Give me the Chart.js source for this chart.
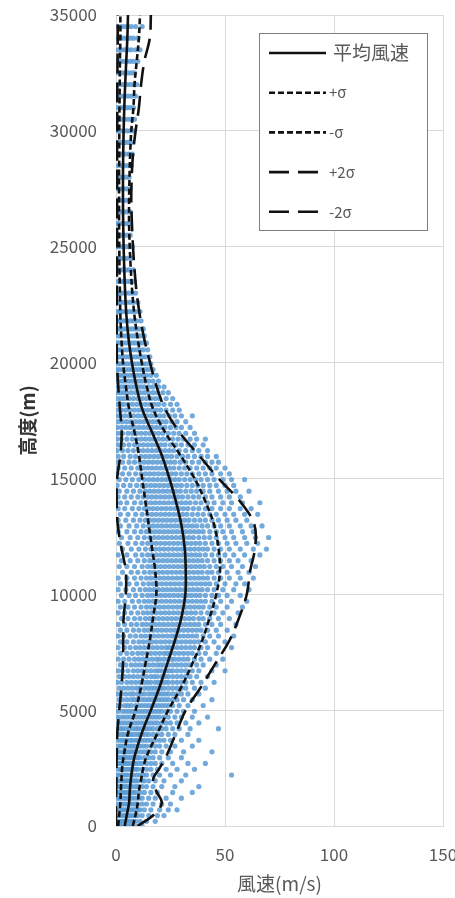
<!DOCTYPE html>
<html>
<head>
<meta charset="utf-8">
<script src="https://cdn.jsdelivr.net/npm/chart.js@4/dist/chart.umd.min.js"></script>
<style>
  html, body { margin: 0; padding: 0; background: #fff; }
  canvas { display: block; }
</style>
</head>
<body>
<canvas id="windChart" width="455" height="898"></canvas>
<script>
// heights (m) for the mean / sigma profiles
const curveHeights = [0, 500, 1000, 1500, 2000, 2500, 3000, 4000, 5000, 6000, 7000, 8000, 9000, 10000,
  11000, 12000, 13000, 14000, 15000, 16000, 17000, 18000, 19000, 20000, 21000, 22000, 23000, 24000,
  25000, 26000, 27000, 28000, 29000, 30000, 31000, 32000, 33000, 34000, 35000]

// wind speed (m/s) profiles
const meanSpeed = [4, 5, 6, 6.3, 6.8, 7.5, 8.5, 11.8, 16, 20, 23.5, 27, 30, 31.8, 32, 31.5, 30, 27.5, 24.5,
  21, 16.5, 12, 9.3, 7.3, 5.8, 4.8, 4.2, 3.8, 3.5, 3.3, 3.2, 3.2, 3.3, 3.5, 3.8, 4.2, 4.7, 5.2, 5.5]
const plusSigma = [7.7, 9, 10, 10.5, 11.5, 12.5, 14, 19, 24, 30, 35, 39.5, 43, 46, 47.7, 47, 45, 41, 36,
  29.5, 22.5, 17, 14, 11.8, 10, 8.5, 7.5, 6.8, 6.3, 6, 6, 6.2, 6.5, 7, 8, 8.5, 9.5, 10.5, 11]
const minusSigma = [1, 1.5, 2, 2.2, 2.5, 2.8, 3.5, 5.5, 9, 11.5, 13.5, 15.5, 17, 18.5, 18, 16.5, 15, 13.5, 12,
  10.5, 8.5, 6, 4.5, 3.2, 2.5, 2, 1.8, 1.6, 1.5, 1.4, 1.4, 1.4, 1.5, 1.5, 1.6, 1.7, 1.8, 2, 2]
const plus2Sigma = [10, 17.5, 21, 18.5, 17, 20, 23, 27.5, 32, 39, 45.5, 52, 56.5, 60, 61.5, 63.8, 63.5, 57, 47,
  38, 29, 22.5, 18.5, 15.6, 13, 11, 9.5, 8.5, 7.8, 7.3, 7, 7.2, 7.8, 9, 10.5, 11.5, 13, 15.5, 16]
const minus2Sigma = [0, 0, 0, 0.1, 0.2, 0.2, 0.3, 0.6, 1.5, 2.5, 3.2, 3.3, 3.5, 4.5, 4.5, 2.5, 0.8, 0.3, 0.5,
  2, 2.6, 1.8, 1, 0.4, 0.3, 0.3, 0.4, 0.4, 0.5, 0.5, 0.5, 0.5, 0.5, 0.5, 0.6, 0.6, 0.7, 0.8, 0.8]

const lineLabels = ['平均風速', '+σ', '-σ', '+2σ', '-2σ']

// observed points: one row of speeds per height
const obsHeights = [0, 200, 450, 700, 950, 1200, 1450, 1700, 1950, 2200, 2450, 2700, 2950, 3200, 3450, 3700,
  3950, 4200, 4450, 4700, 4950, 5200, 5450, 5700, 5950, 6200, 6450, 6700, 6950, 7200, 7450, 7700, 7950,
  8200, 8450, 8700, 8950, 9200, 9450, 9700, 9950, 10200, 10450, 10700, 10950, 11200, 11450, 11700, 11950,
  12200, 12450, 12700, 12950, 13200, 13450, 13700, 13950, 14200, 14450, 14700, 14950, 15200, 15450, 15700,
  15950, 16200, 16450, 16700, 16950, 17200, 17450, 17700, 17950, 18200, 18450, 18700, 18950, 19200, 19450,
  19700, 19950, 20250, 20550, 20850, 21150, 21450, 21800, 22200, 22600, 23000, 23500, 24000, 24500, 25000,
  25500, 26000, 26500, 27000, 27500, 28000, 28500, 29000, 29500, 30000, 30500, 31000, 31500, 32000, 32500,
  33000, 33500, 34000, 34500]

const obsSpeeds = [
  [0.5, 1, 2, 3, 4, 5, 6, 7, 8, 10, 12],
  [0.5, 1.5, 2.5, 3, 4, 5, 6, 7, 8, 9, 11, 14, 18],
  [1, 2, 3, 4, 5, 5.5, 6, 7, 8, 9, 10, 12, 15, 19, 22],
  [0.5, 1.5, 2.5, 3.5, 4.5, 5.5, 6.5, 7.5, 8.5, 10, 11, 13, 16, 20, 24, 28],
  [1, 2, 3, 4, 5, 6, 7, 8, 9, 10, 12, 14, 17, 21, 25],
  [0.5, 1.5, 2.5, 3.5, 4.5, 5.5, 6.5, 7.5, 9, 10.5, 12, 15, 18, 23, 30],
  [1, 2, 3, 4, 5, 6, 7, 8, 9, 11, 13, 16, 19, 26, 35],
  [0.5, 1.5, 2.5, 3.5, 4.5, 5.5, 6.5, 7.5, 9, 10, 12, 14, 17, 21, 27, 38],
  [1, 2, 3, 4, 5, 6, 7, 8, 9, 10, 12, 13, 15, 18, 22, 30],
  [0.5, 1.5, 2.5, 3.5, 4.5, 5.5, 7, 8, 9.5, 11, 12.5, 14, 17, 20, 25, 32, 53],
  [1, 2, 3, 4, 5, 6, 7, 8, 9, 10, 12, 14, 16, 19, 23, 28, 36],
  [0.5, 1.5, 2.5, 3.5, 4.5, 5.5, 6.5, 8, 9, 10.5, 12, 14, 16, 18, 21, 26, 33, 41],
  [1, 2, 3, 4, 5, 6, 7, 8, 9, 10, 11, 13, 15, 17, 20, 24, 30],
  [0.5, 1.5, 3, 4, 5, 6, 7, 8, 9, 10, 11.5, 13, 14.5, 16, 18, 21, 25, 31, 44],
  [1, 2, 3, 4.5, 5.5, 6.5, 7.5, 8.5, 10, 11, 12.5, 14, 16, 18, 20, 23, 27, 35],
  [0.5, 2, 3, 4, 5, 6.5, 7.5, 9, 10, 11.5, 13, 14.5, 16, 18, 20, 22, 25, 30, 38],
  [1, 2.5, 3.5, 5, 6, 7, 8.5, 10, 11, 12, 13.5, 15, 17, 19, 21, 24, 27, 33],
  [0.5, 2, 3, 4.5, 6, 7.5, 9, 10, 11.5, 13, 14, 15.5, 17, 19, 21, 23, 26, 29, 34, 47],
  [1, 2.5, 4, 5.5, 7, 8.5, 10, 11.5, 13, 14.5, 16, 17.5, 19, 21, 23, 25, 28, 32, 38],
  [0.5, 2, 3.5, 5, 6.5, 8, 9.5, 11, 12.5, 14, 15.5, 17, 18.5, 20, 22, 24, 27, 30, 35, 42],
  [1, 3, 4.5, 6, 7.5, 9, 10.5, 12, 13.5, 15, 16.5, 18, 19.5, 21, 23, 25, 28, 31, 36],
  [0.5, 2, 4, 5.5, 7, 9, 10.5, 12, 13.5, 15, 16.5, 18, 19.5, 21, 22.5, 24, 26, 29, 33, 40],
  [1.5, 3, 5, 7, 8.5, 10, 12, 13.5, 15, 16.5, 18, 19.5, 21, 22.5, 24, 26, 28, 31, 35, 44],
  [0.5, 2.5, 4.5, 6.5, 8, 10, 11.5, 13, 15, 16.5, 18, 19.5, 21, 22.5, 24, 26, 28, 30, 33, 38],
  [1.5, 3.5, 5.5, 7.5, 9.5, 11, 13, 14.5, 16, 17.5, 19, 20.5, 22, 24, 26, 28, 30, 32, 36, 41],
  [0.5, 2.5, 5, 7, 9, 11, 13, 14.5, 16, 18, 19.5, 21, 22.5, 24, 26, 28, 30, 32, 35, 39, 45],
  [1.5, 4, 6, 8, 10, 12, 14, 16, 17.5, 19, 21, 22.5, 24, 26, 28, 30, 32, 34, 37, 42],
  [1, 3, 5.5, 8, 10, 12, 14, 16, 18, 19.5, 21, 23, 24.5, 26, 28, 30, 32, 35, 38, 44, 50],
  [2, 4.5, 7, 9, 11, 13, 15, 17, 19, 20.5, 22, 24, 26, 28, 30, 32, 34, 37, 40, 46],
  [1, 3.5, 6, 8.5, 10.5, 12.5, 14.5, 16.5, 18.5, 20, 22, 24, 25.5, 27, 29, 31, 33, 36, 39, 43, 49],
  [2, 5, 7.5, 10, 12, 14, 16, 18, 20, 22, 23.5, 25, 27, 29, 31, 33, 35, 38, 41, 46],
  [1, 4, 6.5, 9, 11, 13, 15, 17, 19, 21, 23, 24.5, 26, 28, 30, 32, 34, 36, 39, 42, 47, 53],
  [2, 5, 8, 10.5, 12.5, 14.5, 16.5, 18.5, 20.5, 22.5, 24.5, 26.5, 28, 30, 32, 34, 36, 38, 41, 45, 50],
  [1, 3.5, 6.5, 9, 11.5, 13.5, 15.5, 17.5, 19.5, 21.5, 23.5, 25.5, 27, 29, 31, 33, 35, 37, 40, 43, 47, 54],
  [2, 5, 8, 10.5, 13, 15, 17, 19, 21, 23, 25, 27, 29, 31, 33, 35, 37, 39, 42, 46, 51],
  [1, 4, 7, 9.5, 12, 14, 16, 18, 20, 22, 24, 26, 28, 30, 32, 34, 36, 38, 41, 44, 48, 55],
  [2.5, 5.5, 8.5, 11, 13.5, 15.5, 17.5, 19.5, 21.5, 23.5, 25.5, 27.5, 29.5, 31.5, 33.5, 35.5, 38, 40, 43, 47, 52],
  [1, 4, 7, 10, 12.5, 14.5, 16.5, 18.5, 20.5, 22.5, 24.5, 26.5, 28.5, 30.5, 32.5, 34.5, 36.5, 39, 42, 45, 49, 56],
  [2, 5.5, 8.5, 11.5, 14, 16, 18, 20, 22, 24, 26, 28, 30, 32, 34, 36, 38, 40, 43, 46, 51, 58],
  [1, 4, 7.5, 10.5, 13, 15, 17, 19, 21, 23, 25, 27, 29, 31, 33, 35, 37, 39, 41, 44, 48, 53, 60],
  [2.5, 6, 9, 12, 14.5, 16.5, 18.5, 20.5, 22.5, 24.5, 26.5, 28.5, 30.5, 32.5, 34.5, 36.5, 38.5, 41, 44, 47, 51, 57],
  [1, 4.5, 8, 11, 13.5, 15.5, 17.5, 19.5, 21.5, 23.5, 25.5, 27.5, 29.5, 31.5, 33.5, 35.5, 37.5, 39.5, 42, 45, 49, 54, 61],
  [2, 6, 9.5, 12.5, 15, 17, 19, 21, 23, 25, 27, 29, 31, 33, 35, 37, 39, 41, 43, 46, 50, 55, 59],
  [1, 5, 8.5, 11.5, 14, 16, 18, 20, 22, 24, 26, 28, 30, 32, 34, 36, 38, 40, 42, 45, 48, 52, 57, 63],
  [3, 7, 10, 13, 15.5, 17.5, 19.5, 21.5, 23.5, 25.5, 27.5, 29.5, 31.5, 33.5, 35.5, 37.5, 39.5, 42, 44, 47, 51, 56, 61],
  [1.5, 5, 8.5, 12, 14.5, 16.5, 18.5, 20.5, 22.5, 24.5, 26.5, 28.5, 30.5, 32.5, 34.5, 36.5, 38.5, 40.5, 43, 46, 49, 53, 58, 64],
  [2.5, 6.5, 10, 13, 15.5, 17.5, 19.5, 21.5, 23.5, 25.5, 27.5, 29.5, 31.5, 33.5, 35.5, 37.5, 39.5, 42, 45, 48, 52, 56, 62],
  [1, 5, 9, 12, 14.5, 16.5, 18.5, 20.5, 22.5, 24.5, 26.5, 28.5, 30.5, 32.5, 34.5, 36.5, 38.5, 41, 44, 47, 50, 54, 59, 66],
  [3, 7, 10.5, 13.5, 16, 18, 20, 22, 24, 26, 28, 30, 32, 34, 36, 38, 40, 42, 45, 48, 52, 57, 63, 69],
  [1.5, 5.5, 9, 12, 14.5, 16.5, 18.5, 20.5, 22.5, 24.5, 26.5, 28.5, 30.5, 32.5, 34.5, 36.5, 38.5, 41, 44, 47, 51, 55, 60, 65],
  [2.5, 6.5, 10, 13, 15.5, 17.5, 19.5, 21.5, 23.5, 25.5, 27.5, 29.5, 31.5, 33.5, 35.5, 38, 40.5, 43, 46, 50, 54, 59, 64, 70],
  [1, 5, 8.5, 11.5, 14, 16, 18, 20, 22, 24, 26, 28, 30, 32, 34, 36, 38, 40, 43, 46, 49, 53, 58, 63],
  [2, 6, 9.5, 12.5, 15, 17, 19, 21, 23, 25, 27, 29, 31, 33, 35, 37, 39.5, 42, 45, 48, 52, 57, 62, 67],
  [1, 4.5, 8, 11, 13.5, 15.5, 17.5, 19.5, 21.5, 23.5, 25.5, 27.5, 29.5, 31.5, 33.5, 36, 38.5, 41, 44, 47, 51, 55, 60],
  [2, 5.5, 9, 12, 14.5, 16.5, 18.5, 20.5, 22.5, 24.5, 26.5, 28.5, 30.5, 32.5, 35, 37.5, 40, 43, 46, 50, 54, 59, 65],
  [1, 4, 7.5, 10.5, 13, 15, 17, 19, 21, 23, 25, 27, 29, 31, 33, 35.5, 38, 41, 44, 48, 52, 57, 62],
  [2, 5, 8.5, 11.5, 14, 16, 18, 20, 22, 24, 26, 28, 30, 32, 34, 36.5, 39, 42, 45, 49, 53, 58, 66],
  [1, 4, 7, 10, 12.5, 14.5, 16.5, 18.5, 20.5, 22.5, 24.5, 26.5, 28.5, 30.5, 33, 35.5, 38, 41, 44, 48, 52, 57],
  [1.5, 5, 8, 11, 13.5, 15.5, 17.5, 19.5, 21.5, 23.5, 25.5, 27.5, 29.5, 32, 34.5, 37, 40, 43, 47, 51, 55, 61],
  [0.5, 3.5, 6.5, 9.5, 12, 14, 16, 18, 20, 22, 24, 26, 28, 30, 32.5, 35, 37.5, 40, 43, 46, 50, 54],
  [1.5, 4.5, 7.5, 10.5, 13, 15, 17, 19, 21, 23, 25, 27, 29, 31.5, 34, 36.5, 39, 42, 45, 49, 53, 59],
  [0.5, 3, 6, 9, 11.5, 13.5, 15.5, 17.5, 19.5, 21.5, 23.5, 25.5, 27.5, 30, 32.5, 35, 38, 41, 44, 48, 52],
  [1, 4, 7, 10, 12.5, 14.5, 16.5, 18.5, 20.5, 22.5, 24.5, 26.5, 29, 31.5, 34, 37, 40, 43, 46, 50],
  [0.5, 3, 6, 8.5, 11, 13, 15, 17, 19, 21, 23, 25, 27, 29.5, 32, 35, 38, 41, 44, 47],
  [1, 3.5, 6.5, 9, 11.5, 13.5, 15.5, 17.5, 19.5, 21.5, 23.5, 25.5, 28, 30.5, 33, 36, 39, 42, 46],
  [0.5, 3, 5.5, 8, 10.5, 12.5, 14.5, 16.5, 18.5, 20.5, 22.5, 24.5, 26.5, 29, 32, 35, 38, 42],
  [1, 3.5, 6, 8.5, 10.5, 12.5, 14.5, 16.5, 18.5, 20.5, 22.5, 25, 27.5, 30, 33, 36, 40],
  [0.5, 2.5, 5, 7.5, 9.5, 11.5, 13.5, 15.5, 17.5, 19.5, 21.5, 23.5, 26, 28.5, 31, 34, 37, 41],
  [1, 3, 5.5, 7.5, 9.5, 11.5, 13.5, 15.5, 17.5, 19.5, 21.5, 24, 26.5, 29, 32, 36],
  [0.5, 2.5, 4.5, 6.5, 8.5, 10.5, 12.5, 14.5, 16.5, 18.5, 20.5, 22.5, 25, 27.5, 30, 34],
  [1, 3, 5, 7, 9, 11, 13, 15, 17, 19, 21, 23, 25.5, 28, 32],
  [0.5, 2, 4, 6, 8, 10, 12, 14, 16, 18, 20, 22, 24.5, 27, 30, 35],
  [1, 2.5, 4.5, 6.5, 8.5, 10.5, 12.5, 14.5, 16.5, 18.5, 20.5, 23, 26, 29],
  [0.5, 2, 3.5, 5.5, 7.5, 9.5, 11.5, 13.5, 15.5, 17.5, 19.5, 22, 25, 28],
  [1, 2.5, 4, 6, 8, 10, 12, 14, 16, 18, 20, 23, 26],
  [0.5, 2, 3.5, 5, 7, 9, 11, 13, 15, 17, 19, 21.5, 24],
  [1, 2.5, 4, 5.5, 7, 8.5, 10, 11.5, 13, 15, 17, 19.5, 22],
  [0.5, 1.5, 3, 4.5, 6, 7.5, 9, 10.5, 12, 13.5, 15, 17, 19.5],
  [1, 2, 3.5, 5, 6.5, 8, 9.5, 11, 12.5, 14, 16, 18.5],
  [0.5, 1.5, 3, 4.5, 6, 7.5, 9, 10.5, 12, 13.5, 15, 17],
  [1, 2, 3.5, 5, 6.5, 8, 9.5, 11, 12.5, 14, 16],
  [0.5, 1.5, 3, 4.5, 6, 7.5, 9, 10.5, 12, 13.5, 15.5],
  [1, 2, 3.5, 5, 6.5, 8, 9.5, 11, 12.5, 14.5],
  [0.5, 1.5, 3, 4.5, 6, 7.5, 9, 10.5, 12, 14],
  [1, 2, 3.5, 5, 6.5, 8, 9.5, 11, 13],
  [0.5, 1.5, 3, 4.5, 6, 7.5, 9, 10.5, 12.5],
  [1, 2, 3.5, 5, 6.5, 8, 9.5, 11.5],
  [0.5, 1.5, 3, 4.5, 6, 7.5, 9, 11],
  [1, 2, 3.5, 5, 6.5, 8, 10],
  [0.5, 1.5, 3, 4.5, 6, 7.5, 9],
  [1, 2, 3.5, 5, 6.5, 8.5],
  [0.5, 1.5, 3, 4.5, 6, 8],
  [1, 2, 3.5, 5, 7],
  [0.5, 1.5, 3, 4.5, 6, 7.5],
  [1, 2, 3.5, 5, 6.5],
  [0.5, 1.5, 3, 4.5, 6],
  [1, 2, 3.5, 5, 6.5],
  [0.5, 1.5, 3, 4.5, 6],
  [1, 2, 3.5, 5, 6.5],
  [0.5, 1.5, 3, 4.5, 6],
  [1, 2.5, 4, 5.5, 7],
  [0.5, 1.5, 3, 4.5, 6, 7.5],
  [1, 2.5, 4, 5.5, 7],
  [0.5, 2, 3.5, 5, 6.5, 8],
  [1, 2.5, 4, 5.5, 7, 8.5],
  [0.5, 2, 3.5, 5, 6.5, 8],
  [1, 2.5, 4, 5.5, 7, 9],
  [0.5, 2, 3.5, 5, 6.5, 8, 9.5],
  [1, 2.5, 4, 5.5, 7, 8.5],
  [0.5, 2, 3.5, 5, 6.5, 8, 10],
  [1, 2.5, 4, 5.5, 7, 9, 11],
  [0.5, 2, 3.5, 5, 6.5, 8, 10],
  [1, 2.5, 4, 5.5, 7, 9, 12],
]

const FONT = "'Noto Sans CJK JP', 'Noto Sans', sans-serif"
const GRID = '#d9d9d9'
const TEXT = '#595959'

const obsPoints = []
obsHeights.forEach((h, i) => {
  (obsSpeeds[i] || []).forEach((v) => obsPoints.push({ x: v, y: h }))
})

function profile(values) {
  return curveHeights.map((h, i) => ({ x: values[i], y: h }))
}

const lineStyles = [
  { data: meanSpeed, dash: [] },
  { data: plusSigma, dash: [6, 3] },
  { data: minusSigma, dash: [6, 3] },
  { data: plus2Sigma, dash: [20, 9] },
  { data: minus2Sigma, dash: [20, 9] },
]

const lineDatasets = lineStyles.map((s, i) => ({
  label: lineLabels[i],
  data: profile(s.data),
  showLine: true,
  borderColor: '#111',
  borderWidth: 2.6,
  borderDash: s.dash,
  pointRadius: 0,
  tension: 0.35,
  order: 1,
}))

// legend box drawn inside the plot, upper right
const legendBox = {
  id: 'legendBox',
  afterDraw(chart) {
    const ctx = chart.ctx
    const area = chart.chartArea
    const bx = area.right - 184
    const by = area.top + 18
    ctx.save()
    ctx.fillStyle = '#fff'
    ctx.fillRect(bx, by, 168, 197)
    ctx.strokeStyle = '#808080'
    ctx.lineWidth = 1
    ctx.strokeRect(bx + 0.5, by + 0.5, 168, 197)
    lineDatasets.forEach((ds, i) => {
      const y = by + 20 + i * 39.7
      ctx.beginPath()
      ctx.setLineDash(ds.borderDash)
      ctx.strokeStyle = '#111'
      ctx.lineWidth = 2.6
      ctx.moveTo(bx + 10, y)
      ctx.lineTo(bx + 67, y)
      ctx.stroke()
      ctx.setLineDash([])
      ctx.fillStyle = TEXT
      ctx.textBaseline = 'middle'
      ctx.font = (i === 0 ? '19px ' : '15px ') + FONT
      ctx.fillText(ds.label, bx + (i === 0 ? 74 : 70), y)
    })
    ctx.restore()
  },
}

new Chart(document.getElementById('windChart'), {
  type: 'scatter',
  data: {
    datasets: [
      ...lineDatasets,
      {
        label: 'obs',
        data: obsPoints,
        pointRadius: 2.6,
        pointBorderWidth: 0,
        pointBackgroundColor: 'rgba(91, 155, 213, 0.85)',
        order: 10,
      },
    ],
  },
  options: {
    responsive: false,
    animation: false,
    layout: { padding: { top: 15, right: 12, left: 0, bottom: 0 } },
    plugins: {
      legend: { display: false },
      tooltip: { enabled: false },
    },
    scales: {
      x: {
        type: 'linear',
        min: 0,
        max: 150,
        ticks: {
          stepSize: 50,
          color: TEXT,
          font: { family: FONT, size: 17 },
          padding: 18,
          callback: (v) => String(v),
        },
        grid: { color: GRID, drawTicks: false },
        border: { color: GRID },
        title: {
          display: true,
          text: '風速(m/s)',
          color: TEXT,
          font: { family: FONT, size: 19 },
          padding: { top: 0, bottom: 3 },
        },
        afterFit: (s) => {
          s.height = 72
          s.paddingLeft = 0
          s.paddingRight = 0
        },
      },
      y: {
        type: 'linear',
        min: 0,
        max: 35000,
        ticks: {
          stepSize: 5000,
          color: TEXT,
          font: { family: FONT, size: 17 },
          padding: 19,
          callback: (v) => String(v),
        },
        grid: { color: GRID, drawTicks: false },
        border: { color: GRID },
        title: {
          display: true,
          text: '高度(m)',
          color: '#333',
          font: { family: FONT, size: 19, weight: 'bold' },
          padding: { top: 16, bottom: 0 },
        },
        afterFit: (s) => {
          s.width = 116
          s.paddingTop = 0
          s.paddingBottom = 0
        },
      },
    },
  },
  plugins: [legendBox],
})
</script>
</body>
</html>
